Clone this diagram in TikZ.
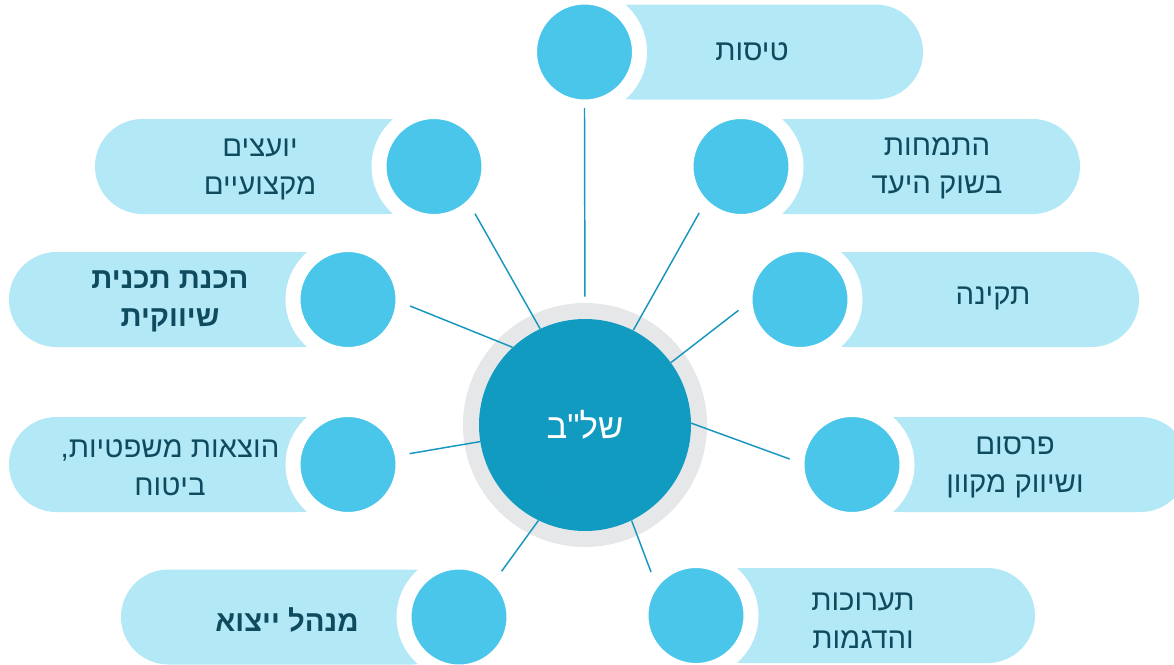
\documentclass[tikz,border=0pt]{standalone}
\usepackage{fontspec}
\newfontfamily\hebfont[Script=Hebrew]{Liberation Sans}
\TeXXeTstate=1
\definecolor{pillcol}{HTML}{B3E8F6}
\definecolor{dotcol}{HTML}{49C6EA}
\definecolor{hubcol}{HTML}{129BC1}
\definecolor{ringcol}{HTML}{E6E7E9}
\definecolor{spokecol}{HTML}{1796BE}
\definecolor{textcol}{HTML}{0E4B5F}
\newcommand{\heb}[1]{\beginR #1\endR}
\newcommand{\pill}[3]{\fill[pillcol, rounded corners=35.6pt] (#1,#3-47.5) rectangle (#2,#3+47.5);}
\begin{document}
\begin{tikzpicture}[x=0.75pt,y=-0.75pt,
  dot/.style={circle, fill=dotcol, draw=white, line width=11.25pt, minimum size=82.5pt, inner sep=0pt},
  hub/.style={circle, fill=hubcol, minimum size=159pt, inner sep=0pt, text=white,
    font=\hebfont\fontsize{26}{30}\selectfont},
  lbl/.style={text=textcol, align=center, font=\hebfont\fontsize{22}{28.5}\selectfont},
  spoke/.style={draw=spokecol, line width=1.1pt}]
\useasboundingbox (0,0) rectangle (1174,664);
\fill[ringcol] (585,425) circle (91.5pt);

\pill{584}{923}{52}
\pill{741}{1080}{166.5}
\pill{800}{1139}{299.5}
\pill{852}{1188}{464.5}
\pill{696}{1035}{615.5}
\pill{95}{434}{166.5}
\pill{9}{348}{299.5}
\pill{9}{348}{464.5}
\pill{121}{459}{617}

\node[hub] (shlab) at (585,425) {\heb{של"ב}};
\node[dot] (tisot) at (584.5,52) {};
\node[dot] (hitmahut) at (741,166.5) {};
\node[dot] (tkina) at (800,299.5) {};
\node[dot] (pirsum) at (852,464.5) {};
\node[dot] (taaruhot) at (696,615.5) {};
\node[dot] (yoatzim) at (434,166.5) {};
\node[dot] (tochnit) at (348,299.5) {};
\node[dot] (hotzaot) at (348,464.5) {};
\node[dot] (menahel) at (459,617) {};

\node[lbl] (tisot-t) at (752,52) {\heb{טיסות}};
\node[lbl] (hitmahut-t) at (937,168) {\heb{התמחות}\\\heb{בשוק היעד}};
\node[lbl] (tkina-t) at (993,298) {\heb{תקינה}};
\node[lbl] (pirsum-t) at (1015,467) {\heb{פרסום}\\\heb{ושיווק מקוון}};
\node[lbl] (taaruhot-t) at (863,621) {\heb{תערוכות}\\\heb{והדגמות}};
\node[lbl] (yoatzim-t) at (260,169) {\heb{יועצים}\\\heb{מקצועיים}};
\node[lbl, font=\hebfont\bfseries\fontsize{22}{28.5}\selectfont] (tochnit-t) at (170,301) {\heb{הכנת תכנית}\\\heb{שיווקית}};
\node[lbl] (hotzaot-t) at (170,468) {\heb{הוצאות משפטיות,}\\\heb{ביטוח}};
\node[lbl, font=\hebfont\bfseries\fontsize{22}{28.5}\selectfont] (menahel-t) at (287,620) {\heb{מנהל ייצוא}};

\draw[spoke, shorten <=16.5pt, shorten >=-5pt] (shlab.90) -- (tisot.270);
\draw[spoke] (shlab.63) -- (hitmahut.228.5);
\draw[spoke] (shlab.36) -- (tkina.190.5);
\draw[spoke] (shlab.1) -- (pirsum.175);
\draw[spoke] (shlab.296) -- (taaruhot.136.5);
\draw[spoke] (shlab.115) -- (yoatzim.311);
\draw[spoke] (shlab.133.5) -- (tochnit.354);
\draw[spoke] (shlab.189) -- (hotzaot.10.5);
\draw[spoke] (shlab.244) -- (menahel.47);
% faint trace of the last spoke over the hub
\draw[spoke, opacity=0.2, shorten >=24pt] (shlab.244) -- (shlab.center);
\end{tikzpicture}
\end{document}
